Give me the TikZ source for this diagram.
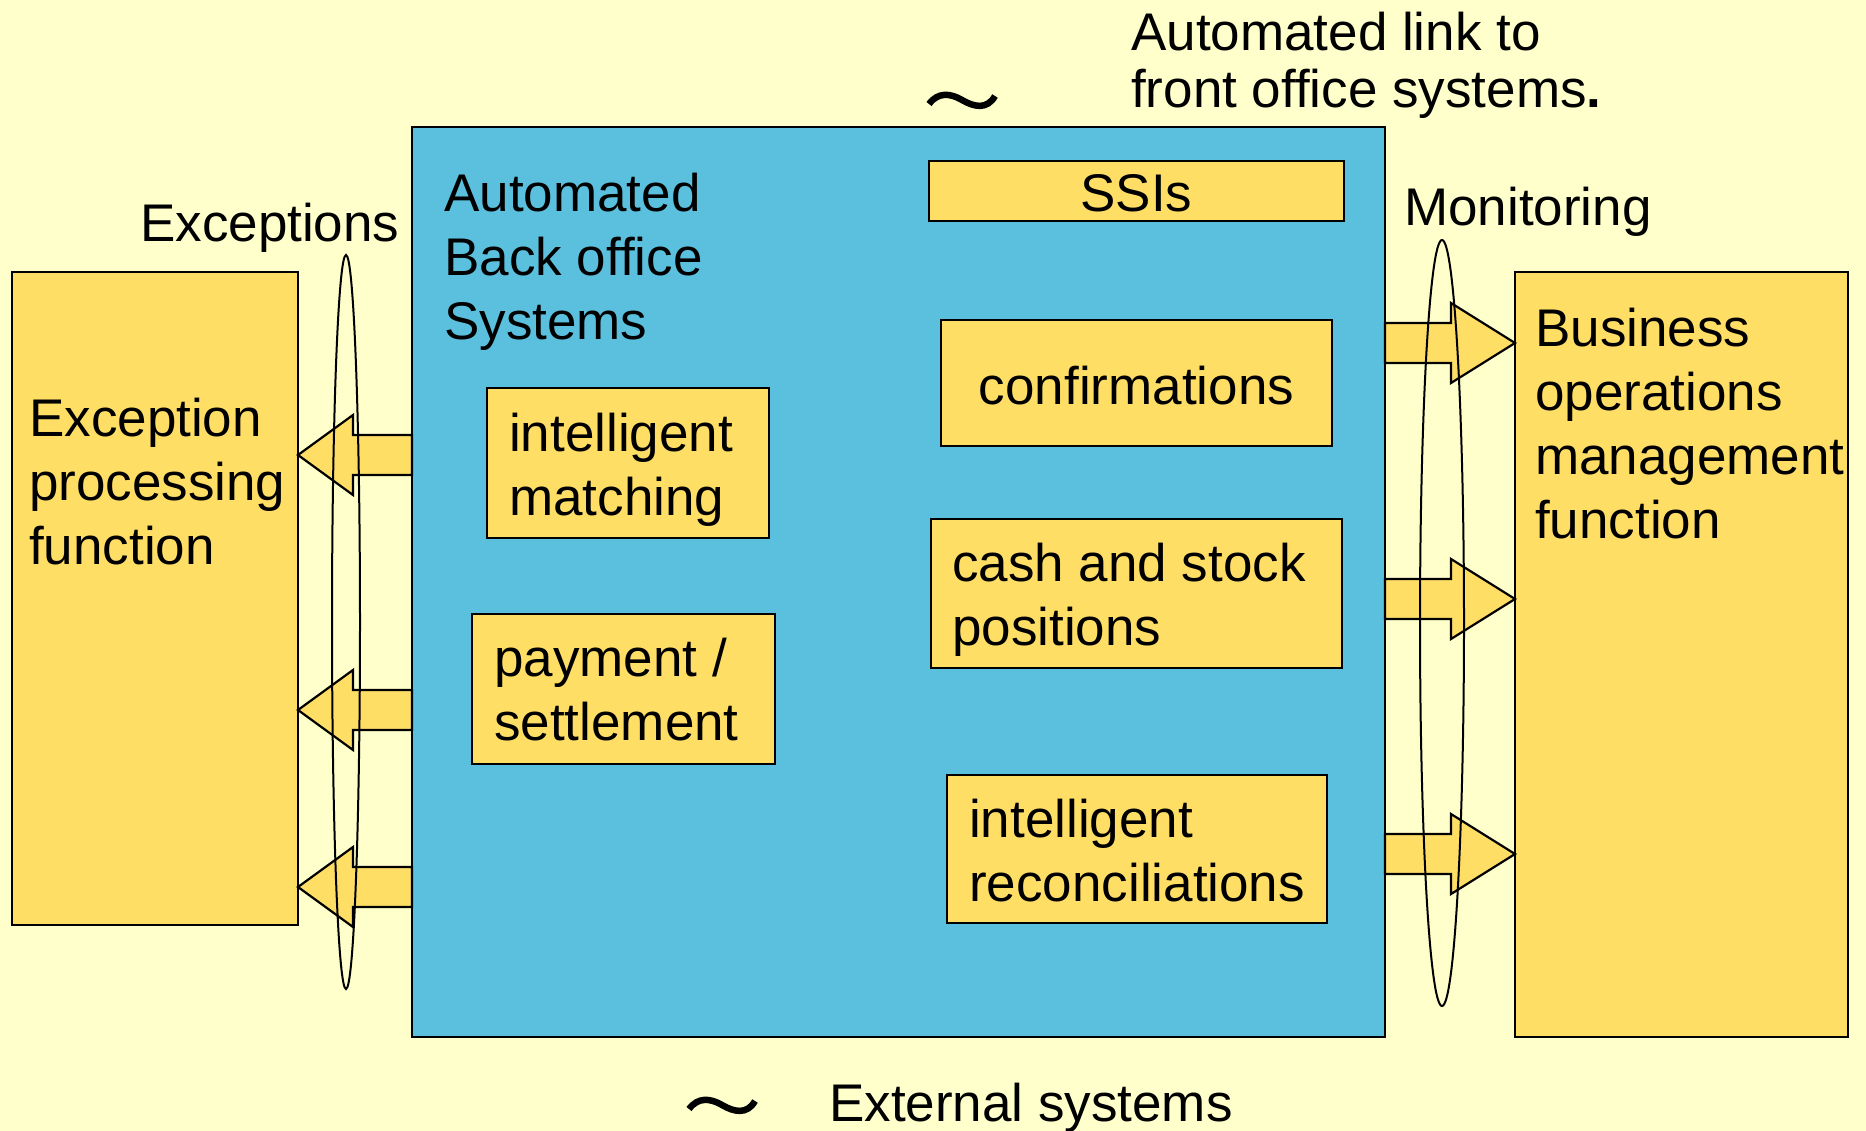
\documentclass[tikz,border=0pt]{standalone}
\usepackage{fontspec}
\setmainfont{Liberation Sans}
\usetikzlibrary{shapes.geometric}
\definecolor{paper}{HTML}{FFFFCC}
\definecolor{sky}{HTML}{5BC0DE}
\definecolor{gold}{HTML}{FFDE66}
\newcommand\txtlines[1]{\begin{tabular}[t]{@{}l@{}}#1\end{tabular}}
% block arrow pointing left: tip on the east side of #1, shaft from #2's west side, centred at height #3
\newcommand\leftblock[3]{%
  \draw[blockarrow] (#1.east |- 0,#3) -- ++(55,-40) -- ++(0,20) -- ++(59,0)
    -- ++(0,40) -- ++(-59,0) -- ++(0,20) -- cycle;}
% block arrow pointing right: shaft from #1's east side, tip on the west side of #2
\newcommand\rightblock[3]{%
  \draw[blockarrow] (#1.east |- 0,#3) ++(0,-20) -- ++(66,0) -- ++(0,-20)
    -- (#2.west |- 0,#3) -- ++(-64,40) -- ++(0,-20) -- ++(-66,0) -- cycle;}
\begin{document}
\begin{tikzpicture}[x=1pt,y=-1pt,
  box/.style={draw=black, line width=2.2pt, fill=gold, anchor=north west,
    inner sep=0pt, outer sep=0pt},
  txt/.style={anchor=base west, inner sep=0pt, font=\fontsize{53}{64}\selectfont},
  ctxt/.style={anchor=base, inner sep=0pt, font=\fontsize{53}{64}\selectfont},
  blockarrow/.style={draw=black, line width=2.2pt, fill=gold, line join=miter},
  ring/.style={draw=black, line width=2pt, ellipse, inner sep=0pt},
  wave/.pic={\draw[line width=6.5pt]
    (-33,3) .. controls (-24,-9) and (-12,-8) .. (0,-1)
    .. controls (12,6) and (25,9) .. (33,-5);}]
\useasboundingbox (0,0) rectangle (1866,1131);
\fill[paper] (0,0) rectangle (1866,1131);

% main back office block and side functions
\node[box, fill=sky, minimum width=973, minimum height=910] (bo) at (412,127) {};
\node[box, minimum width=286, minimum height=653] (exc) at (12,272) {};
\node[box, minimum width=333, minimum height=765] (ops) at (1515,272) {};

% inner components
\node[box, minimum width=415, minimum height=60] (ssi) at (929,161) {};
\node[box, minimum width=391, minimum height=126] (conf) at (941,320) {};
\node[box, minimum width=411, minimum height=149] (cash) at (931,519) {};
\node[box, minimum width=380, minimum height=148] (recon) at (947,775) {};
\node[box, minimum width=282, minimum height=150] (match) at (487,388) {};
\node[box, minimum width=303, minimum height=150] (pay) at (472,614) {};

% block arrows
\leftblock{exc}{bo}{455}
\leftblock{exc}{bo}{710}
\leftblock{exc}{bo}{887}
\rightblock{bo}{ops}{343}
\rightblock{bo}{ops}{599}
\rightblock{bo}{ops}{854}

% rings grouping the arrows
\node[ring, minimum width=28, minimum height=734] (lring) at (346,622) {};
\node[ring, minimum width=44, minimum height=766] (rring) at (1442,623) {};

% labels
\node[txt] (tbo) at (444,212) {\txtlines{Automated\\Back office\\Systems}};
\node[ctxt] (tssi) at (ssi.center |- 0,212) {SSIs};
\node[ctxt] (tconf) at (conf.center |- 0,405) {confirmations};
\node[txt] (tcash) at (952,581) {\txtlines{cash and stock\\positions}};
\node[txt] (trecon) at (969,837) {\txtlines{intelligent\\reconciliations}};
\node[txt] (tmatch) at (509,451) {\txtlines{intelligent\\matching}};
\node[txt] (tpay) at (494,676) {\txtlines{payment /\\settlement}};
\node[txt] (texc) at (29,436) {\txtlines{Exception\\processing\\function}};
\node[txt] (tops) at (1535,347) {\txtlines{Business\\operations\\management\\function}};
\node[txt] (texcept) at (140,242) {Exceptions};
\node[txt] (tmon) at (1404,226) {Monitoring};
\node[txt] (tlink) at (1131,51) {\txtlines{Automated link to\\[-7pt]front office systems{\bfseries .}}};
\node[txt] (text) at (829,1121) {External systems};

% tilde marks
\pic at (962,101) {wave};
\pic at (722,1106) {wave};
\end{tikzpicture}
\end{document}
